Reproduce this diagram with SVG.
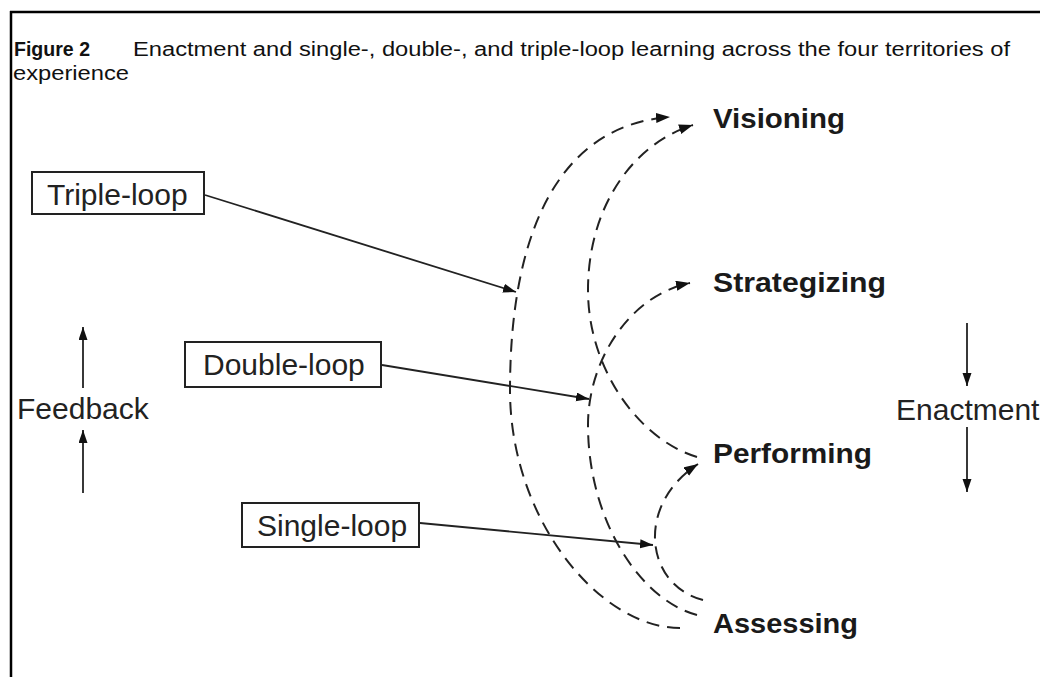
<svg xmlns="http://www.w3.org/2000/svg" width="1040" height="677" viewBox="0 0 1040 677">
<defs>
<style>
.frame{stroke:#000;stroke-width:2.5;fill:none}
.title{font-family:"Liberation Sans",Arial,sans-serif;font-size:20px;fill:#111}
.titleb{font-family:"Liberation Sans",Arial,sans-serif;font-size:20px;font-weight:bold;fill:#111}
.lbl{font-family:"Liberation Sans",Arial,sans-serif;font-size:30px;fill:#222}
.terr{font-family:"Liberation Sans",Arial,sans-serif;font-size:28px;font-weight:bold;fill:#1a1a1a}
.box{fill:#fff;stroke:#222;stroke-width:2}
.dash{fill:none;stroke:#222;stroke-width:2;stroke-dasharray:13 8}
.solid{fill:none;stroke:#222;stroke-width:1.8}
</style>
<marker id="ahD" markerUnits="userSpaceOnUse" markerWidth="16" markerHeight="12" refX="14" refY="5" orient="auto">
<path d="M0,0 L14,5 L0,10 z" fill="#111"/>
</marker>
<marker id="ahS" markerUnits="userSpaceOnUse" markerWidth="14" markerHeight="10" refX="13" refY="4.5" orient="auto">
<path d="M0,0 L13,4.5 L0,9 z" fill="#111"/>
</marker>
</defs>
<rect width="1040" height="677" fill="#fff"/>
<g id="frame">
<line class="frame" x1="10" y1="12" x2="1040" y2="12"/>
<line class="frame" x1="11" y1="11" x2="11" y2="677"/>
</g>
<g id="caption">
<text class="titleb" x="14" y="56" textLength="76" lengthAdjust="spacingAndGlyphs">Figure 2</text>
<text class="title" x="133" y="56" textLength="877" lengthAdjust="spacingAndGlyphs">Enactment and single-, double-, and triple-loop learning across the four territories of</text>
<text class="title" x="13" y="80" textLength="116" lengthAdjust="spacingAndGlyphs">experience</text>
</g>
<g id="connectors">
<path id="triple-curve" class="dash" d="M680,628 C600,628 510,520 510,390 C510,230 560,125 670,117" marker-end="url(#ahD)"/>
<path id="double-curve" class="dash" d="M697,615 C640,600 588,520 588,425 C588,360 630,295 690,283" marker-end="url(#ahD)"/>
<path id="perf-vision-curve" class="dash" d="M697,457 C640,440 588,370 588,290 C588,210 630,145 693,125" marker-end="url(#ahD)"/>
<path id="single-curve" class="dash" d="M703,600 C645,585 635,505 698,464" marker-end="url(#ahD)"/>
<line class="solid" x1="205" y1="195" x2="516" y2="292" marker-end="url(#ahS)"/>
<line class="solid" x1="382" y1="365" x2="589" y2="399" marker-end="url(#ahS)"/>
<line class="solid" x1="420" y1="523" x2="653" y2="545" marker-end="url(#ahS)"/>
<line class="solid" x1="83" y1="388" x2="83" y2="327" marker-end="url(#ahS)"/>
<line class="solid" x1="83" y1="493" x2="83" y2="430" marker-end="url(#ahS)"/>
<line class="solid" x1="967" y1="323" x2="967" y2="386" marker-end="url(#ahS)"/>
<line class="solid" x1="967" y1="427" x2="967" y2="492" marker-end="url(#ahS)"/>
</g>
<g id="triple-loop">
<rect class="box" x="32" y="172" width="172" height="42"/>
<text class="lbl" x="47" y="205">Triple-loop</text>
</g>
<g id="double-loop">
<rect class="box" x="185" y="342" width="196" height="45"/>
<text class="lbl" x="203" y="375">Double-loop</text>
</g>
<g id="single-loop">
<rect class="box" x="242" y="503" width="177" height="44"/>
<text class="lbl" x="257" y="536">Single-loop</text>
</g>
<g id="feedback">
<text class="lbl" x="17" y="419">Feedback</text>
</g>
<g id="enactment">
<text class="lbl" x="896" y="420">Enactment</text>
</g>
<g id="visioning"><text class="terr" x="713" y="128" textLength="132" lengthAdjust="spacingAndGlyphs">Visioning</text></g>
<g id="strategizing"><text class="terr" x="713" y="292" textLength="173" lengthAdjust="spacingAndGlyphs">Strategizing</text></g>
<g id="performing"><text class="terr" x="713" y="463" textLength="159" lengthAdjust="spacingAndGlyphs">Performing</text></g>
<g id="assessing"><text class="terr" x="713" y="633" textLength="145" lengthAdjust="spacingAndGlyphs">Assessing</text></g>
</svg>
